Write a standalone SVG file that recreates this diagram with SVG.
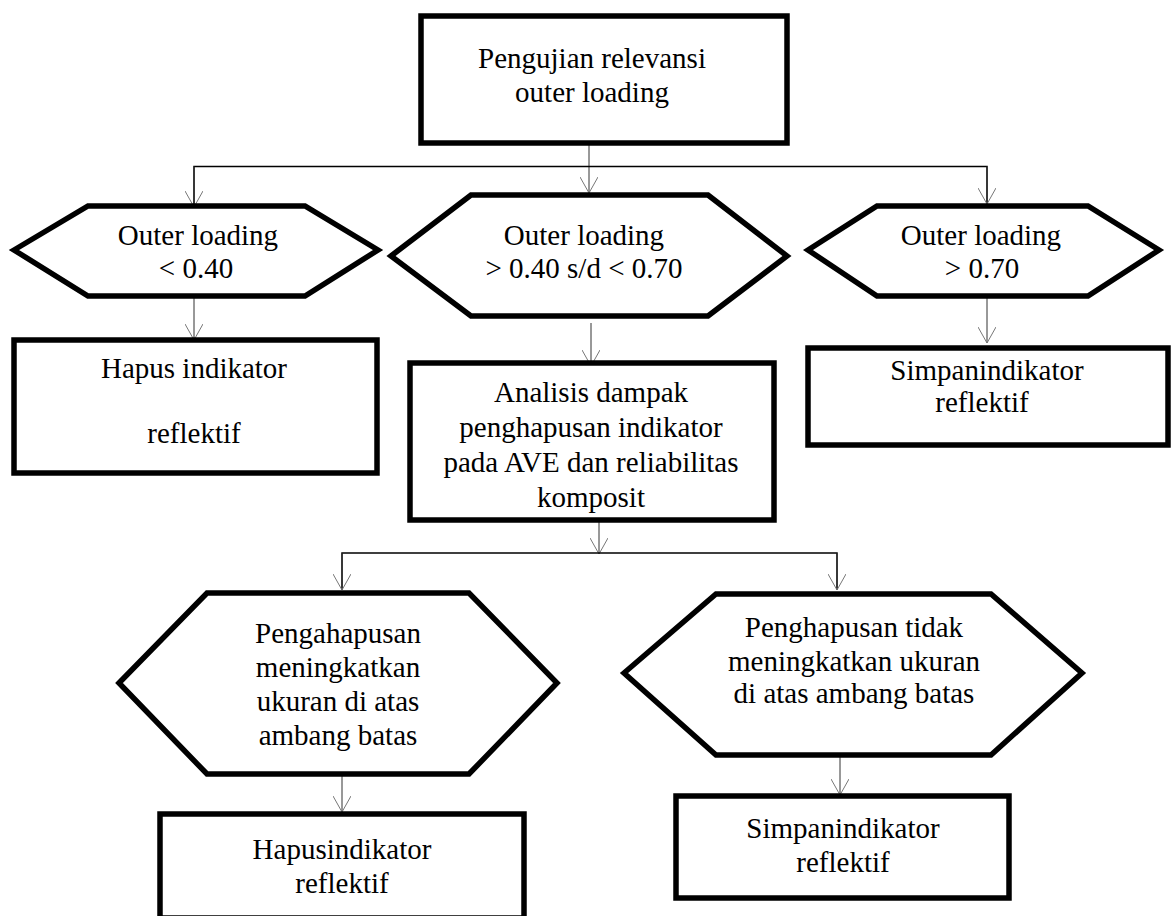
<svg xmlns="http://www.w3.org/2000/svg" width="1171" height="916" viewBox="0 0 1171 916" font-family="'Liberation Serif', 'DejaVu Serif', serif">
  <style>
    .shape { fill: #fff; stroke: #000; stroke-width: 5.5; stroke-linejoin: miter; }
    text { font-family: 'Liberation Serif', 'DejaVu Serif', serif; font-size: 29px; fill: #000; text-anchor: middle; }
    .bus { fill: none; stroke: #000; stroke-width: 1.5; }
    .arr { fill: none; stroke: #333; stroke-width: 1; marker-end: url(#vhead); }
  </style>
  <defs>
    <marker id="vhead" markerUnits="userSpaceOnUse" viewBox="0 0 17 18" refX="16" refY="9" markerWidth="17" markerHeight="18" orient="auto">
      <path d="M0,0 L16,9 L0,18" fill="none" stroke="#777" stroke-width="1"/>
    </marker>
  </defs>

  <rect width="1171" height="916" fill="#fff"/>

  <!-- connectors -->
  <g id="connectors">
    <line class="arr" x1="589" y1="132" x2="589" y2="193"/>
    <polyline class="bus" points="194,210 194,166.5 987,166.5 987,204"/>
    <line class="arr" x1="194" y1="166.5" x2="194" y2="207"/>
    <line class="arr" x1="987" y1="166.5" x2="987" y2="204"/>
    <line class="arr" x1="194" y1="298" x2="194" y2="340"/>
    <line class="arr" x1="591" y1="323" x2="591" y2="366"/>
    <line class="arr" x1="987" y1="298" x2="987" y2="343"/>
    <line class="arr" x1="599" y1="521" x2="599" y2="554"/>
    <polyline class="bus" points="342,590 342,553 837,553 837,590" stroke-width="1"/>
    <line class="arr" x1="342" y1="553" x2="342" y2="590"/>
    <line class="arr" x1="837" y1="553" x2="837" y2="590"/>
    <line class="arr" x1="342" y1="775" x2="342" y2="812"/>
    <line class="arr" x1="840" y1="756" x2="840" y2="795"/>
  </g>

  <g id="start">
    <rect class="shape" x="421" y="16" width="366" height="127"/>
    <text x="592" y="68">Pengujian relevansi</text>
    <text x="592" y="102">outer loading</text>
  </g>

  <g id="cond-low">
    <polygon class="shape" points="14,250 88,206 305,206 378,250 305,296 88,296"/>
    <text x="198" y="245">Outer loading</text>
    <text x="196" y="278">&lt; 0.40</text>
  </g>

  <g id="cond-mid">
    <polygon class="shape" points="391,256 471,195 708,195 787,256 708,316 471,316"/>
    <text x="584" y="245">Outer loading</text>
    <text x="584" y="278">&gt; 0.40 s/d &lt; 0.70</text>
  </g>

  <g id="cond-high">
    <polygon class="shape" points="808,250 877,206 1088,206 1159,250 1088,296 877,296"/>
    <text x="981" y="245">Outer loading</text>
    <text x="982" y="278">&gt; 0.70</text>
  </g>

  <g id="delete-1">
    <rect class="shape" x="14" y="340" width="363" height="133"/>
    <text x="194" y="378">Hapus indikator</text>
    <text x="194" y="443">reflektif</text>
  </g>

  <g id="analysis">
    <rect class="shape" x="410" y="363" width="364" height="157"/>
    <text x="591" y="402">Analisis dampak</text>
    <text x="591" y="437">penghapusan indikator</text>
    <text x="591" y="472">pada AVE dan reliabilitas</text>
    <text x="591" y="507">komposit</text>
  </g>

  <g id="keep-1">
    <rect class="shape" x="808" y="348" width="360" height="97"/>
    <text x="987" y="380">Simpanindikator</text>
    <text x="982" y="412">reflektif</text>
  </g>

  <g id="cond-raise">
    <polygon class="shape" points="119,683 207,593 469,593 557,683 469,774 207,774"/>
    <text x="338" y="643">Pengahapusan</text>
    <text x="338" y="677">meningkatkan</text>
    <text x="338" y="711">ukuran di atas</text>
    <text x="338" y="745">ambang batas</text>
  </g>

  <g id="cond-noraise">
    <polygon class="shape" points="624,673 716,594 991,594 1082,673 991,755 716,755"/>
    <text x="854" y="637">Penghapusan tidak</text>
    <text x="854" y="671">meningkatkan ukuran</text>
    <text x="854" y="703">di atas ambang batas</text>
  </g>

  <g id="delete-2">
    <rect class="shape" x="160" y="814" width="364" height="104"/>
    <text x="342" y="859">Hapusindikator</text>
    <text x="342" y="893">reflektif</text>
  </g>

  <g id="keep-2">
    <rect class="shape" x="676" y="796" width="333" height="102"/>
    <text x="843" y="838">Simpanindikator</text>
    <text x="843" y="872">reflektif</text>
  </g>
</svg>
